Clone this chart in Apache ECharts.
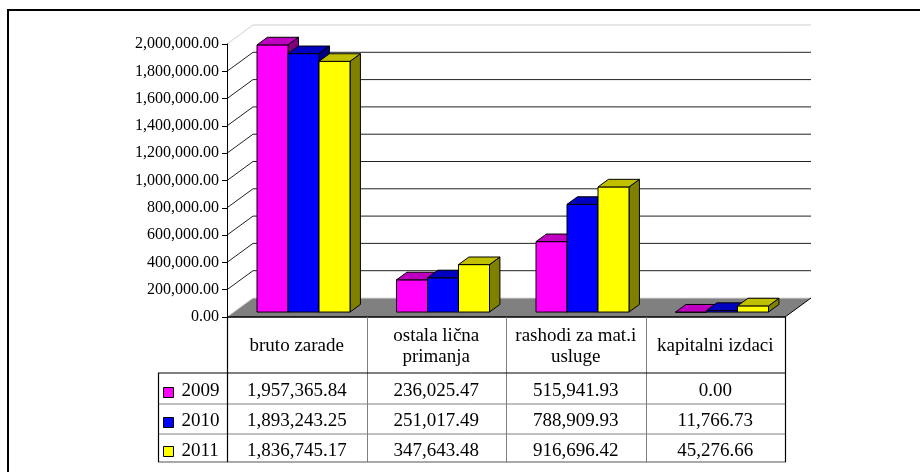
<!DOCTYPE html>
<html>
<head>
<meta charset="utf-8">
<script src="https://cdn.jsdelivr.net/npm/echarts@6/dist/echarts.min.js"></script>
<style>html,body{margin:0;padding:0;background:#fff;}#c{width:920px;height:472px;}</style>
</head>
<body>
<div id="c"></div>
<script>
// ---- data ----
const categories = ['bruto zarade', 'ostala lična\nprimanja', 'rashodi za mat.i\nusluge', 'kapitalni izdaci'];
const years = ['2009', '2010', '2011'];
const s2009 = [1957365.84, 236025.47, 515941.93, 0.00];
const s2010 = [1893243.25, 251017.49, 788909.93, 11766.73];
const s2011 = [1836745.17, 347643.48, 916696.42, 45276.66];
const yTicks = [0, 200000, 400000, 600000, 800000, 1000000, 1200000, 1400000, 1600000, 1800000, 2000000];

// ---- styles / layout ----
const FONT = 'Liberation Serif';
const GRID = {left: 227, top: 44, width: 558, height: 273};
const DEPTH = {dx: 26, dy: -19};
const BAR_F0 = 0.26, BAR_F1 = 0.66, BAR_FRAC = 31 / 139.5;
const FACE = [
  {front: '#FF00FF', top: '#C000C0', side: '#800080'},
  {front: '#0000FF', top: '#0000C0', side: '#000080'},
  {front: '#FFFF00', top: '#C0C000', side: '#808000'}
];
const seriesData = [s2009, s2010, s2011];

function fmt(v) {
  const s = v.toFixed(2);
  const [ip, dp] = s.split('.');
  return ip.replace(/\B(?=(\d{3})+(?!\d))/g, ',') + '.' + dp;
}

const chart = echarts.init(document.getElementById('c'), null, {renderer: 'canvas'});

function wallItem(params, api) {
  const v = api.value(1);
  const y = api.coord([0, v])[1];
  const cs = params.coordSys;
  const x0 = cs.x, x1 = cs.x + cs.width, dx = DEPTH.dx, dy = DEPTH.dy;
  const children = [];
  if (v === 0) {
    children.push({type: 'polygon', shape: {points: [[x0, y], [x1, y], [x1 + dx, y + dy], [x0 + dx, y + dy]]},
      style: {fill: '#808080', stroke: null}});
    children.push({type: 'line', shape: {x1: x0, y1: y, x2: x0 + dx, y2: y + dy}, style: {stroke: '#d0d0d0', lineWidth: 1}});
    children.push({type: 'line', shape: {x1: x0 + dx, y1: y + dy, x2: x1 + dx, y2: y + dy}, style: {stroke: '#d8d8d8', lineWidth: 1}});
    children.push({type: 'line', shape: {x1: x1, y1: y, x2: x1 + dx, y2: y + dy}, style: {stroke: '#000', lineWidth: 1}});
  } else {
    const col = (v === yTicks[yTicks.length - 1]) ? '#cfcfcf' : '#222';
    children.push({type: 'line', shape: {x1: x0 + dx, y1: y + dy, x2: x1 + dx, y2: y + dy}, style: {stroke: col, lineWidth: 1}});
    children.push({type: 'line', shape: {x1: x0, y1: y, x2: x0 + dx, y2: y + dy}, style: {stroke: col, lineWidth: 1}});
  }
  return {type: 'group', children: children};
}

function barItemFactory(si) {
  return function (params, api) {
    const cat = api.value(0), val = api.value(1);
    const top = api.coord([cat, val]);
    const base = api.coord([cat, 0]);
    const band = api.size([1, 0])[0];
    const bw = band * BAR_FRAC;
    const ox = DEPTH.dx * BAR_F0, oy = DEPTH.dy * BAR_F0;
    const ex = DEPTH.dx * (BAR_F1 - BAR_F0), ey = DEPTH.dy * (BAR_F1 - BAR_F0);
    const x0 = top[0] - 1.5 * bw + si * bw + ox;
    const yT = top[1] + oy, yB = base[1] + oy;
    const f = FACE[si];
    const ls = {stroke: '#000', lineWidth: 1, lineJoin: 'miter'};
    return {type: 'group', children: [
      {type: 'polygon', shape: {points: [[x0 + bw, yT], [x0 + bw + ex, yT + ey], [x0 + bw + ex, yB + ey], [x0 + bw, yB]]},
        style: Object.assign({fill: f.side}, ls)},
      {type: 'rect', shape: {x: x0, y: yT, width: bw, height: yB - yT}, style: Object.assign({fill: f.front}, ls)},
      {type: 'polygon', shape: {points: [[x0, yT], [x0 + bw, yT], [x0 + bw + ex, yT + ey], [x0 + ex, yT + ey]]},
        style: Object.assign({fill: f.top}, ls)}
    ]};
  };
}

// table rows (relative to floor front edge)
const HEADER_H = 56, ROW_Y = [56, 87, 117, 145];
const ROW_TEXT = [74.5, 104.5, 133.7];
const TFONT = 19;

function tableItem(params, api) {
  const idx = api.value(0);
  const cx = api.coord([idx, 0])[0];
  const base = api.coord([idx, 0])[1];
  const children = [];
  children.push({type: 'text', style: {text: categories[idx], x: cx, y: base + 29.5, align: 'center', verticalAlign: 'middle',
    font: TFONT + 'px "' + FONT + '"', fill: '#000', lineHeight: 21}});
  seriesData.forEach(function (arr, r) {
    children.push({type: 'text', style: {text: fmt(arr[idx]), x: cx, y: base + ROW_TEXT[r], align: 'center', verticalAlign: 'middle',
      font: TFONT + 'px "' + FONT + '"', fill: '#000'}});
  });
  return {type: 'group', children: children};
}

const gL = GRID.left, gR = GRID.left + GRID.width, gB = GRID.top + GRID.height;
const colW = GRID.width / categories.length;
const legL = 158;
const graphics = [];
// outer frame
graphics.push({type: 'rect', shape: {x: 8, y: 10, width: 1000, height: 1000}, style: {fill: null, stroke: '#000', lineWidth: 2}, z: 100});
// table lines
graphics.push({type: 'line', shape: {x1: gL, y1: gB, x2: gR, y2: gB}, style: {stroke: '#000', lineWidth: 1.5}, z: 50});
for (let i = 1; i < categories.length; i++) {
  const x = Math.round(gL + colW * i) + 0.5;
  graphics.push({type: 'line', shape: {x1: x, y1: gB, x2: x, y2: gB + ROW_Y[3]}, style: {stroke: '#808080', lineWidth: 1}, z: 50});
}
graphics.push({type: 'line', shape: {x1: gL + 0.5, y1: gB, x2: gL + 0.5, y2: gB + ROW_Y[3]}, style: {stroke: '#000', lineWidth: 1.2}, z: 51});
graphics.push({type: 'line', shape: {x1: gR + 0.5, y1: gB, x2: gR + 0.5, y2: gB + ROW_Y[3]}, style: {stroke: '#000', lineWidth: 1.2}, z: 51});
graphics.push({type: 'line', shape: {x1: legL, y1: gB + ROW_Y[0], x2: gR, y2: gB + ROW_Y[0]}, style: {stroke: '#000', lineWidth: 1}, z: 51});
graphics.push({type: 'line', shape: {x1: legL, y1: gB + ROW_Y[1], x2: gR, y2: gB + ROW_Y[1]}, style: {stroke: '#808080', lineWidth: 1}, z: 50});
graphics.push({type: 'line', shape: {x1: legL, y1: gB + ROW_Y[2], x2: gR, y2: gB + ROW_Y[2]}, style: {stroke: '#808080', lineWidth: 1}, z: 50});
graphics.push({type: 'line', shape: {x1: legL, y1: gB + ROW_Y[3], x2: gR + 1, y2: gB + ROW_Y[3]}, style: {stroke: '#555', lineWidth: 1.2}, z: 50});
graphics.push({type: 'line', shape: {x1: legL + 0.5, y1: gB + ROW_Y[0], x2: legL + 0.5, y2: gB + ROW_Y[3]}, style: {stroke: '#000', lineWidth: 1.2}, z: 51});
// legend keys
years.forEach(function (yr, r) {
  const cy = gB + ROW_TEXT[r];
  graphics.push({type: 'rect', shape: {x: 163.5, y: Math.round(cy - 5) + 0.5, width: 10, height: 10},
    style: {fill: FACE[r].front, stroke: '#000', lineWidth: 1}, z: 52});
  graphics.push({type: 'text', style: {text: yr, x: 181.5, y: cy, align: 'left', verticalAlign: 'middle',
    font: TFONT + 'px "' + FONT + '"', fill: '#000'}, z: 52});
});

const option = {
  animation: false,
  backgroundColor: '#fff',
  grid: {left: GRID.left, top: GRID.top, width: GRID.width, height: GRID.height, containLabel: false},
  xAxis: {type: 'category', data: categories, show: false, boundaryGap: true},
  yAxis: {
    type: 'value', min: 0, max: 2000000, interval: 200000,
    axisLine: {show: true, lineStyle: {color: '#000', width: 1}},
    axisTick: {show: true, inside: false, length: 5, lineStyle: {color: '#000'}},
    splitLine: {show: false},
    axisLabel: {color: '#000', fontFamily: FONT, fontSize: 16, margin: 8, formatter: fmt},
    z: 10
  },
  graphic: graphics,
  series: [
    {type: 'custom', name: 'walls', renderItem: wallItem, data: yTicks.map(function (v) { return [0, v]; }), z: 1, silent: true, clip: false}
  ].concat(seriesData.map(function (arr, si) {
    return {type: 'custom', name: years[si], renderItem: barItemFactory(si), z: 5 + si, clip: false,
      data: arr.map(function (v, i) { return [i, v]; })};
  })).concat([
    {type: 'custom', name: 'table', renderItem: tableItem, data: categories.map(function (c, i) { return [i, 0]; }), z: 20, clip: false, silent: true}
  ])
};
chart.setOption(option);
</script>
</body>
</html>
